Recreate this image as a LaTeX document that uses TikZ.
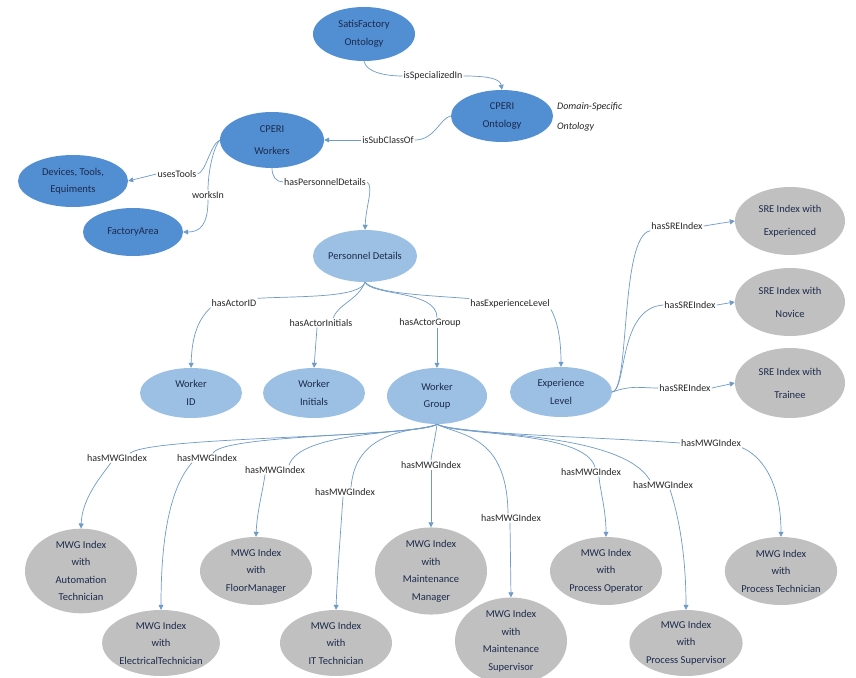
\documentclass[tikz,border=0pt]{standalone}
\usepackage{fontspec}
\setmainfont{Carlito}
\usetikzlibrary{shapes.geometric,arrows.meta}
\definecolor{dkblue}{RGB}{82,142,210}
\definecolor{ltblue}{RGB}{155,192,228}
\definecolor{ndgray}{RGB}{192,192,192}
\definecolor{edgecol}{RGB}{110,155,200}
\definecolor{ntext}{RGB}{28,42,75}
\begin{document}
\begin{tikzpicture}[x=1pt,y=-1pt,
  ell/.style={ellipse, inner sep=0pt, align=center, text=ntext, font=\fontsize{10.5}{17.5}\selectfont},
  sz/.style 2 args={minimum width=#1pt, minimum height=#2pt},
  dark/.style={ell, fill=dkblue},
  light/.style={ell, fill=ltblue},
  grayn/.style={ell, fill=ndgray, sz={112}{68}},
  lbl/.style={inner sep=1pt, font=\fontsize{10}{11}\selectfont, text=black!85},
  edge/.style={draw=edgecol, line width=0.7pt},
  arr/.style={-{Triangle[width=5pt,length=5pt]}}
]
\useasboundingbox[fill=white] (0,0) rectangle (856,677);

% ---------- nodes ----------
\node[dark, sz={102}{54}] (sf) at (364,34) {SatisFactory\\Ontology};
\node[dark, sz={102}{52}] (co) at (502,116) {CPERI\\Ontology};
\node[anchor=west, align=left, inner sep=0pt, font=\fontsize{10}{20}\selectfont\itshape, text=black!85] (dso) at (557,117) {Domain-Specific\\Ontology};
\node[dark, sz={104}{56}, font=\fontsize{10.5}{22}\selectfont] (cw) at (272,140) {CPERI\\Workers};
\node[dark, sz={110}{52}] (dev) at (73,181) {Devices, Tools,\\Equiments};
\node[dark, sz={100}{48}] (fa) at (133,232) {FactoryArea};
\node[light, sz={100}{52}] (pd) at (365,256) {Personnel Details};
\node[light, sz={102}{50}] (wid) at (191,393) {Worker\\ID};
\node[light, sz={102}{50}] (wini) at (314,393) {Worker\\Initials};
\node[light, sz={100}{56}] (wg) at (437,396) {Worker\\Group};
\node[light, sz={102}{50}] (el) at (561,392) {Experience\\Level};

\node[grayn, sz={110}{68}, font=\fontsize{10.5}{23}\selectfont] (sre1) at (790,221) {SRE Index with\\Experienced};
\node[grayn, sz={110}{68}, font=\fontsize{10.5}{23}\selectfont] (sre2) at (790,302) {SRE Index with\\Novice};
\node[grayn, sz={110}{70}, font=\fontsize{10.5}{23}\selectfont] (sre3) at (790,383) {SRE Index with\\Trainee};

\node[grayn, sz={112}{72}] (m1) at (81,571) {MWG Index\\with\\Automation\\Technician};
\node[grayn, sz={112}{66}] (m2) at (161,643) {MWG Index\\with\\ElectricalTechnician};
\node[grayn] (m3) at (256,571) {MWG Index\\with\\FloorManager};
\node[grayn, sz={112}{66}] (m4) at (336,643) {MWG Index\\with\\IT Technician};
\node[grayn, sz={112}{72}] (m5) at (431,571) {MWG Index\\with\\Maintenance\\Manager};
\node[grayn, sz={112}{72}] (m6) at (511,641) {MWG Index\\with\\Maintenance\\Supervisor};
\node[grayn] (m7) at (606,571) {MWG Index\\with\\Process Operator};
\node[grayn, sz={112}{66}] (m8) at (686,643) {MWG Index\\with\\Process Supervisor};
\node[grayn] (m9) at (781,571) {MWG Index\\with\\Process Technician};

% ---------- labels ----------
\node[lbl] (lisp) at (433,76) {isSpecializedIn};
\node[lbl] (lsub) at (388,140) {isSubClassOf};
\node[lbl] (luse) at (177,174) {usesTools};
\node[lbl] (lwork) at (208,195) {worksIn};
\node[lbl] (lper) at (325,182) {hasPersonnelDetails};
\node[lbl] (lid) at (234,303) {hasActorID};
\node[lbl] (lini) at (321,323) {hasActorInitials};
\node[lbl] (lgrp) at (430,323) {hasActorGroup};
\node[lbl] (lexp) at (510,304) {hasExperienceLevel};
\node[lbl] (ls1) at (677,226) {hasSREIndex};
\node[lbl] (ls2) at (690,305) {hasSREIndex};
\node[lbl] (ls3) at (685,388) {hasSREIndex};
\node[lbl] (lm1) at (117,458) {hasMWGIndex};
\node[lbl] (lm2) at (207,458) {hasMWGIndex};
\node[lbl] (lm3) at (275,470) {hasMWGIndex};
\node[lbl] (lm4) at (345,492) {hasMWGIndex};
\node[lbl] (lm5) at (431,465) {hasMWGIndex};
\node[lbl] (lm6) at (511,518) {hasMWGIndex};
\node[lbl] (lm7) at (591,472) {hasMWGIndex};
\node[lbl] (lm8) at (663,485) {hasMWGIndex};
\node[lbl] (lm9) at (711,443) {hasMWGIndex};

% ---------- edges ----------
\draw[edge] (sf.south) .. controls (366,72) and (385,76) .. (lisp.west);
\draw[edge,arr] (lisp.east) .. controls (485,76) and (500,78) .. (co.north);

\draw[edge] (co.west) .. controls (440,118) and (435,140) .. (lsub.east);
\draw[edge,arr] (lsub.west) -- (cw.east);

\draw[edge] (cw.west) .. controls (210,145) and (206,172) .. (luse.east);
\draw[edge,arr] (luse.west) -- (dev.east);
\draw[edge] (cw.west) .. controls (212,150) and (208,175) .. (lwork.north);
\draw[edge,arr] (lwork.south) .. controls (208,225) and (200,232) .. (fa.east);

\draw[edge] (cw.south) .. controls (272,176) and (276,182) .. (lper.west);
\draw[edge,arr] (lper.east) .. controls (374,187) and (366,205) .. (pd.north);

\draw[edge] (pd.south) .. controls (360,298) and (300,296) .. (lid.north east);
\draw[edge,arr] (lid.south west) .. controls (200,318) and (192,332) .. (wid.north);
\draw[edge] (pd.south) .. controls (358,300) and (338,304) .. ([xshift=12pt]lini.north);
\draw[edge,arr] ([xshift=-4pt]lini.south) -- (wini.north);
\draw[edge] (pd.south) .. controls (372,296) and (437,290) .. ([xshift=7pt]lgrp.north);
\draw[edge,arr] ([xshift=7pt]lgrp.south) -- (wg.north);
\draw[edge] (pd.south) .. controls (375,293) and (420,295) .. (lexp.north west);
\draw[edge,arr] (lexp.south east) .. controls (556,318) and (561,335) .. (el.north);

\draw[edge] (el.east) .. controls (630,390) and (620,236) .. (ls1.south west);
\draw[edge,arr] (ls1.east) -- (sre1.west);
\draw[edge] (el.east) .. controls (627,390) and (618,308) .. (ls2.west);
\draw[edge,arr] (ls2.east) -- (sre2.west);
\draw[edge] (el.east) .. controls (632,385) and (640,388) .. (ls3.west);
\draw[edge,arr] (ls3.east) -- (sre3.west);

\draw[edge] (wg.south) .. controls (420,438) and (150,436) .. ([xshift=13pt]lm1.north);
\draw[edge,arr] ([xshift=-6pt]lm1.south) .. controls (98,480) and (82,500) .. (m1.north);
\draw[edge] (wg.south) .. controls (420,436) and (222,434) .. ([xshift=6pt]lm2.north);
\draw[edge,arr] ([xshift=-15pt]lm2.south) .. controls (168,490) and (161,545) .. (m2.north);
\draw[edge] (wg.south) .. controls (420,434) and (300,430) .. ([xshift=14pt]lm3.north);
\draw[edge,arr] ([xshift=-10pt]lm3.south) .. controls (262,495) and (257,512) .. (m3.north);
\draw[edge] (wg.south) .. controls (422,432) and (356,425) .. ([xshift=6pt]lm4.north);
\draw[edge,arr] ([xshift=-2pt]lm4.south) .. controls (340,540) and (337,580) .. (m4.north);
\draw[edge] (wg.south) .. controls (435,440) and (432,450) .. (lm5.north);
\draw[edge,arr] (lm5.south) -- (m5.north);
\draw[edge] (wg.south) .. controls (460,436) and (507,434) .. ([xshift=-3pt]lm6.north);
\draw[edge,arr] ([xshift=-1pt]lm6.south) -- (m6.north);
\draw[edge] (wg.south) .. controls (455,436) and (585,430) .. ([xshift=4pt]lm7.north);
\draw[edge,arr] ([xshift=8pt]lm7.south) .. controls (600,490) and (606,510) .. (m7.north);
\draw[edge] (wg.south) .. controls (460,436) and (620,430) .. ([xshift=-13pt]lm8.north);
\draw[edge,arr] ([xshift=7pt]lm8.south) .. controls (680,520) and (686,560) .. (m8.north);
\draw[edge] (wg.south) .. controls (455,434) and (600,437) .. (lm9.west);
\draw[edge,arr] (lm9.south east) .. controls (760,455) and (781,480) .. (m9.north);
\end{tikzpicture}
\end{document}
